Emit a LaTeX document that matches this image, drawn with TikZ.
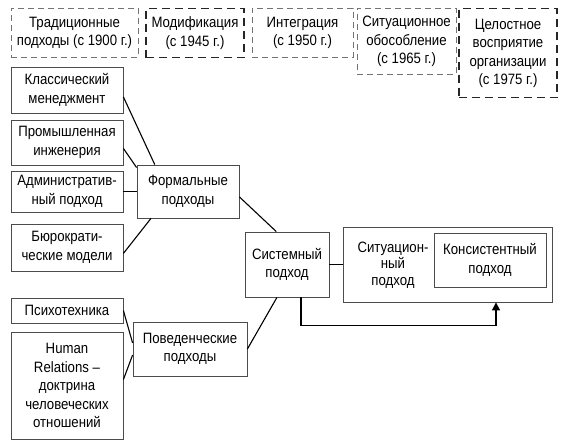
\documentclass[tikz,border=0pt]{standalone}
\usepackage{fontspec}
\setmainfont{Liberation Sans}[FakeStretch=0.88]
\usetikzlibrary{arrows.meta}

\begin{document}
\begin{tikzpicture}[x=1pt,y=-1pt]
\tikzstyle{every node}=[font=\fontsize{15}{18.5}\selectfont, text=black, align=center, inner sep=2pt]
\tikzstyle{box}=[draw=black!70, line width=0.8pt, minimum width=112pt]
\tikzstyle{era}=[draw=black!55, dash pattern=on 6pt off 4pt, line width=0.8pt, anchor=north]
\tikzstyle{erabold}=[era, draw=black!85, dash pattern=on 8pt off 5pt, line width=1.4pt]
\tikzstyle{link}=[draw=black, line width=1.1pt]
\useasboundingbox (0,0) rectangle (561,443);
\node[era, minimum width=127pt, minimum height=49pt] (trad) at (74.5,8) {Традиционные\\подходы (с 1900 г.)};
\node[erabold, minimum width=98pt, minimum height=49pt] (modif) at (195,8) {Модификация\\(с 1945 г.)};
\node[era, minimum width=101pt, minimum height=49pt] (integr) at (302.5,8) {Интеграция\\(с 1950 г.)};
\node[era, minimum width=99pt, minimum height=66pt] (situat) at (406.5,8) {Ситуационное\\обособление\\(с 1965 г.)};
\node[erabold, minimum width=98pt, minimum height=89pt] (holist) at (508,8) {Целостное\\восприятие\\организации\\(с 1975 г.)};
\node[box, minimum height=46pt] (klass) at (67,90) {Классический\\менеджмент};
\node[box, minimum height=45pt] (prom) at (67,142.5) {Промышленная\\инженерия};
\node[box, minimum height=41pt] (admin) at (67,191.5) {Административ-\\ный подход};
\node[box, minimum height=47pt] (bur) at (67,247.5) {Бюрократи-\\ческие модели};
\node[box, minimum height=25pt] (psy) at (67,310.5) {Психотехника};
\node[box, minimum height=107pt] (hum) at (67,385.5) {Human\\Relations --\\доктрина\\человеческих\\отношений};
\node[box, minimum width=102pt, minimum height=53pt] (form) at (188,191.5) {Формальные\\подходы};
\node[box, minimum width=114pt, minimum height=54pt] (pov) at (190,349) {Поведенческие\\подходы};
\node[box, minimum width=84pt, minimum height=65pt] (sys) at (287,264.5) {Системный\\подход};
\node[box, minimum width=209pt, minimum height=75pt] (sit) at (447.5,264.5) {};
\node[font=\fontsize{15}{16.5}\selectfont] (sittxt) at (393,265) {Ситуацион-\\ный\\подход};
\node[box, minimum height=54pt] (kons) at (490,260) {Консистентный\\подход};
\draw[link] (klass.-7) -- (form.141);
\draw[link] (prom.-6) -- (form.155);
\draw[link] (admin.east) -- (form.west);
\draw[link] (bur.-6) -- (form.216);
\draw[link] (form.-6) -- (sys.108);
\draw[link] (sys.east) -- (sit.west);
\draw[link] (psy.east) -- (pov.174);
\draw[link] (hum.6) -- (pov.186);
\draw[link] (pov.east) -- (sys.253);
\draw[link, -{Triangle[length=8pt, width=8pt]}] ([xshift=14pt]sys.south) -- ++(0pt,-28pt) -| ([xshift=48.5pt]sit.south);
\end{tikzpicture}
\end{document}
